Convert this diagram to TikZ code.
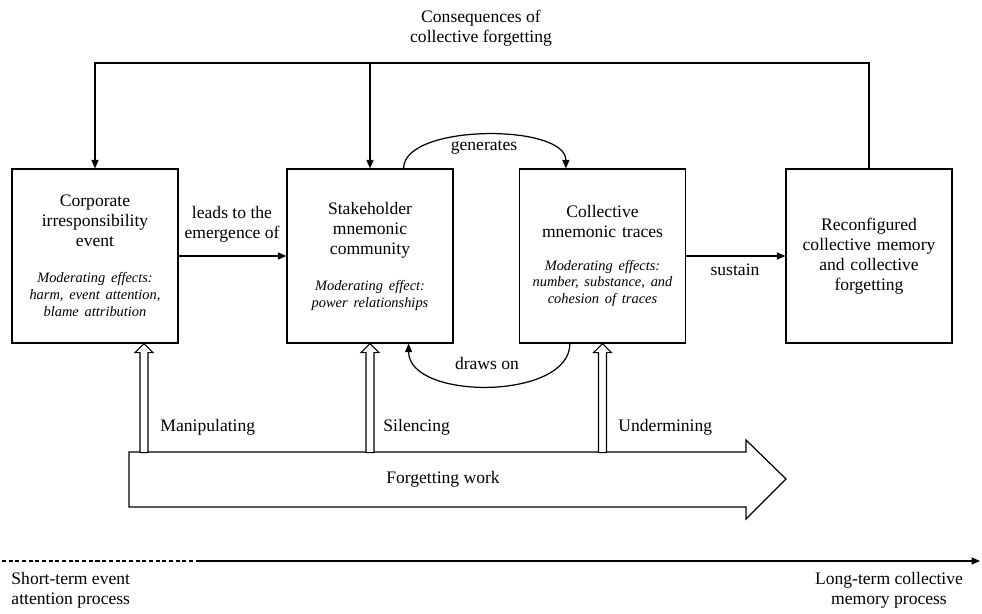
\documentclass[tikz,border=0pt]{standalone}
\usepackage{fontspec}
\setmainfont{Liberation Serif}
\usetikzlibrary{arrows.meta}
\newcommand{\modfx}{\fontsize{8.2pt}{9.6pt}\selectfont\itshape}
\tikzset{
  stagebox/.style={draw, minimum width=3.32cm, minimum height=3.48cm, text width=3.2cm, align=center, inner sep=0pt},
  pics/hollowup/.style={code={
    \draw[fill=white, line width=0.6pt] (0,0) -- (9,9) -- (4,9) -- (4,109) -- (-4,109) -- (-4,9) -- (-9,9) -- cycle;
  }}
}
\begin{document}
\begin{tikzpicture}[x=0.02cm, y=-0.02cm, font=\fontsize{10pt}{11.4pt}\selectfont, line width=0.7pt, >={Triangle[length=4.8pt,width=4pt]}]
\useasboundingbox (0,0) rectangle (982,614);
% the four stages
\node[stagebox] (event) at (95,256) {Corporate\\irresponsibility\\event\par\vspace{11pt}{\modfx Moderating effects:\\harm, event attention,\\blame attribution\par}};
\node[stagebox] (community) at (370,256) {Stakeholder\\mnemonic\\community\par\vspace{11pt}{\modfx Moderating effect:\\power relationships\par}};
\node[stagebox] (traces) at (602.5,256) {Collective\\mnemonic traces\par\vspace{9pt}{\modfx Moderating effects:\\number, substance, and\\cohesion of traces\par}};
\node[stagebox] (memory) at (869,256) {Reconfigured\\collective memory\\and collective\\forgetting};
% feedback on top
\coordinate (fb) at (481,63);
\draw[->] (memory.north) |- (fb) -| (event.north);
\draw[->] (community.north |- fb) -- (community.north);
\node[align=center] (conseq) at (481,28) {Consequences of\\collective forgetting};
% straight links
\draw[->] (event) -- (community);
\node[align=center] (leads) at (232,224) {leads to the\\emergence of};
\draw[->] (traces) -- (memory);
\node (sustain) at (735,270) {sustain};
% loops between community and traces
\coordinate (g1) at ([xshift=-1cm]community.north east);
\coordinate (g2) at ([xshift=0.94cm]traces.north west);
\draw[->] (g1) .. controls ([yshift=0.9cm]g1) and ([yshift=0.9cm]g2) .. (g2);
\node (gen) at (484,147) {generates};
\coordinate (d1) at ([xshift=1.02cm]traces.south west);
\coordinate (d2) at ([xshift=-0.9cm]community.south east);
\draw[->] (d1) .. controls ([yshift=-1.14cm]d1) and ([yshift=-1.14cm]d2) .. (d2);
\node (draws) at (487,363) {draws on};
% forgetting work
\draw (129,452) -- (746,452) -- (746,440) -- (786,479) -- (746,519) -- (746,507) -- (129,507) -- cycle;
\node (work) at (443,479) {Forgetting work};
\pic at ([xshift=0.98cm]event.south) {hollowup};
\pic at (community.south) {hollowup};
\pic at (traces.south) {hollowup};
\node[anchor=west] (manip) at (154,427) {Manipulating};
\node[anchor=west] (silenc) at (377,427) {Silencing};
\node[anchor=west] (underm) at (612,427) {Undermining};
% time line
\coordinate (t0) at (2,561);
\coordinate (t1) at (200,561);
\coordinate (t2) at (980,561);
\draw[dash pattern=on 2.3pt off 1.5pt] (t0) -- (t1);
\draw[->] (t1) -- (t2);
\node[anchor=west, align=left] (short) at (5,590) {Short-term event\\attention process};
\node[align=center] (long) at (889,590) {Long-term collective\\memory process};
\end{tikzpicture}
\end{document}
